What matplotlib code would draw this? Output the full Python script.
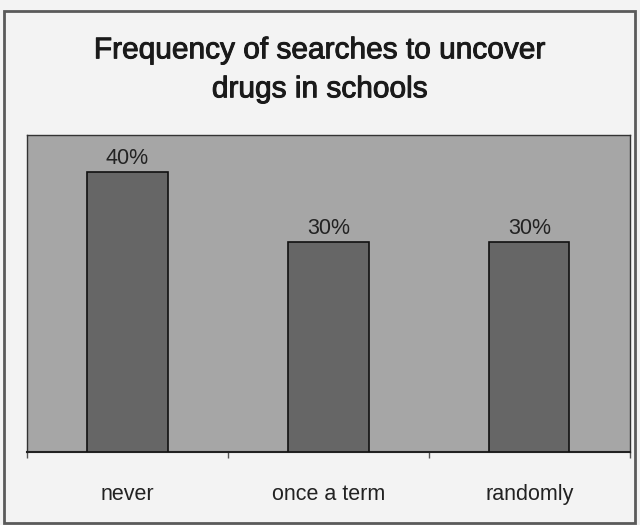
import matplotlib
matplotlib.use("Agg")
from matplotlib import pyplot as plt
from matplotlib.patches import Rectangle
import matplotlib.patheffects as pe

# data
frecuencias = ["never", "once a term", "randomly"]
porcentajes = [40, 30, 30]
titulo = "Frequency of searches to uncover\ndrugs in schools"

plt.rcParams["font.family"] = ["Liberation Sans", "DejaVu Sans"]

fig = plt.figure(figsize=(6.4, 5.25), dpi=100)
fig.patch.set_facecolor("#f3f3f3")

# marco exterior de la figura
marco = Rectangle((0.006, 0.004), 0.986, 0.976, transform=fig.transFigure,
                  fill=False, edgecolor="#5a5a5a", linewidth=2.0)
fig.add_artist(marco)

ax = fig.add_axes([0.042, 0.139, 0.942, 0.604])
ax.set_facecolor("#a6a6a6")

posiciones = list(range(len(frecuencias)))
barras = ax.bar(posiciones, porcentajes, width=0.4, color="#666666",
                edgecolor="#111111", linewidth=1.2, zorder=3)

for pos, valor in zip(posiciones, porcentajes):
    ax.text(pos, valor + 0.5, f"{valor}%", ha="center", va="bottom",
            fontsize=15.5, color="#222222", zorder=4)

ax.set_xlim(-0.5, 2.5)
ax.set_ylim(0, 45.3)
ax.set_yticks([])
ax.set_xticks([-0.5, 0.5, 1.5, 2.5], minor=False)
ax.set_xticklabels([])
ax.tick_params(axis="x", direction="out", length=4, width=1, color="#555555")
ax.set_xticks(posiciones, minor=True)
ax.set_xticklabels(frecuencias, minor=True)
ax.tick_params(axis="x", which="minor", length=0, pad=23, labelsize=15.5,
               labelcolor="#222222")

for lado in ["top", "right", "left"]:
    ax.spines[lado].set_color("#333333")
    ax.spines[lado].set_linewidth(1.0)
ax.spines["bottom"].set_color("#222222")
ax.spines["bottom"].set_linewidth(1.5)

# titulo algo mas grueso que el normal, como en el escaneo
fig.text(0.5, 0.867, titulo, ha="center", va="center", fontsize=21.5,
         color="#1a1a1a", linespacing=1.5,
         path_effects=[pe.withStroke(linewidth=0.7, foreground="#1a1a1a")])

fig.savefig("out.png", dpi=100, facecolor=fig.get_facecolor())
